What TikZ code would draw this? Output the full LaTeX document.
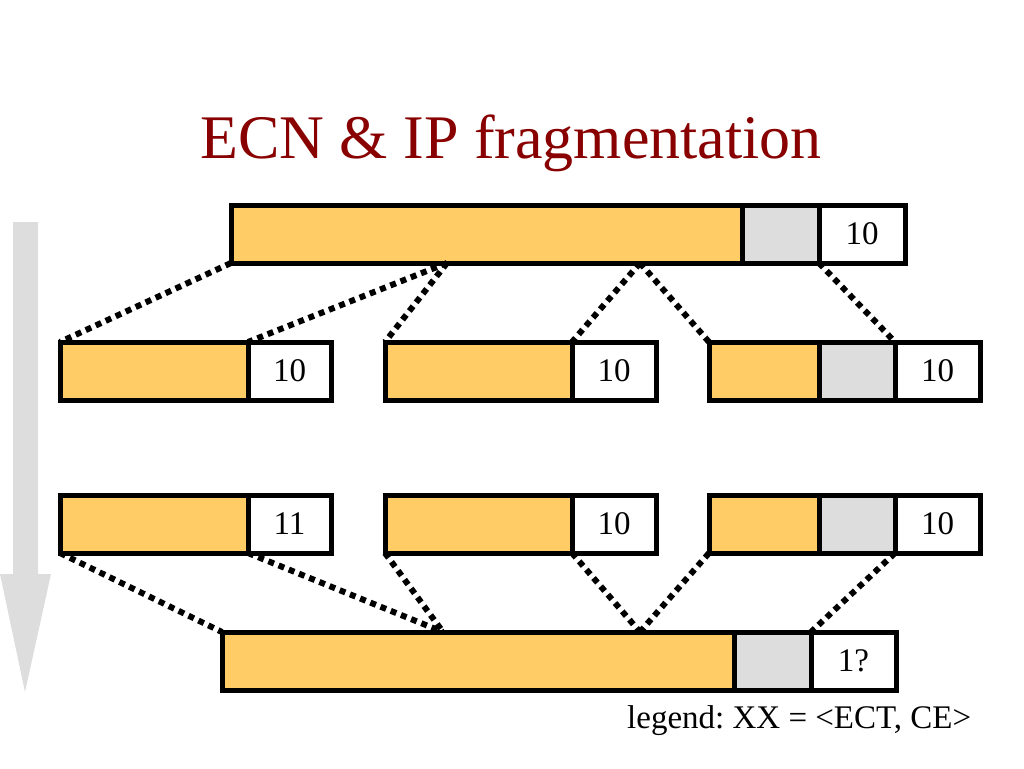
\documentclass[tikz,border=0pt]{standalone}
\usepackage{fontspec}
\setmainfont{Liberation Serif}
\definecolor{payload}{RGB}{255,204,102}
\definecolor{hdr}{RGB}{221,221,221}
\definecolor{titlered}{RGB}{136,0,0}
\tikzset{
  cell/.style={draw=black, line width=5pt, inner sep=0pt, outer sep=0pt, minimum height=58pt, anchor=center, font=\fontsize{33}{36}\selectfont},
  ycell/.style={cell, fill=payload},
  gcell/.style={cell, fill=hdr},
  wcell/.style={cell, fill=white},
  frag/.style={line width=6pt, dash pattern=on 6pt off 5pt}
}
\begin{document}
\frenchspacing
\begin{tikzpicture}[x=1pt,y=-1pt]
\useasboundingbox (0,0) rectangle (1024,768);
% time arrow
\fill[hdr] (13,222) -- (38,222) -- (38,574) -- (51,574) -- (25,692) -- (0,574) -- (13,574) -- cycle;
% title
\node[anchor=base, text=titlered, font=\fontsize{62}{70}\selectfont, inner sep=0pt] (title) at (511,158) {ECN \& IP fragmentation};
% top packet
\node[ycell, minimum width=511pt] (ty) at (486.5,234) {};
\node[gcell, minimum width=77pt] (tg) at (780.5,234) {};
\node[wcell, minimum width=86pt] (tw) at (862,234) {10};
% row 2 fragments
\node[ycell, minimum width=188pt] (ay) at (154,371) {};
\node[wcell, minimum width=83pt] (aw) at (289.5,371) {10};
\node[ycell, minimum width=187pt] (by) at (478.5,371) {};
\node[wcell, minimum width=84pt] (bw) at (614,371) {10};
\node[ycell, minimum width=110pt] (cy) at (764,371) {};
\node[gcell, minimum width=76pt] (cg) at (857,371) {};
\node[wcell, minimum width=85pt] (cw) at (937.5,371) {10};
% row 3 fragments
\node[ycell, minimum width=188pt] (dy) at (154,524) {};
\node[wcell, minimum width=83pt] (dw) at (289.5,524) {11};
\node[ycell, minimum width=187pt] (ey) at (478.5,524) {};
\node[wcell, minimum width=84pt] (ew) at (614,524) {10};
\node[ycell, minimum width=110pt] (fy) at (764,524) {};
\node[gcell, minimum width=76pt] (fg) at (857,524) {};
\node[wcell, minimum width=85pt] (fw) at (937.5,524) {10};
% reassembled packet
\node[ycell, minimum width=512pt] (ry) at (478,661) {};
\node[gcell, minimum width=77pt] (rg) at (772.5,661) {};
\node[wcell, minimum width=85pt] (rw) at (853.5,661) {1?};
% split points
\coordinate (s1) at (447,263);
\coordinate (s2) at (640,263);
\coordinate (m1) at (443,632);
\coordinate (m2) at (640,632);
% fragmentation lines
\draw[frag] (ty.south west) -- (ay.north west);
\draw[frag] (s1) -- (aw.north west);
\draw[frag] (s1) -- (by.north west);
\draw[frag] (s2) -- (bw.north west);
\draw[frag] (s2) -- (cy.north west);
\draw[frag] (tw.south west) -- (cw.north west);
% reassembly lines
\draw[frag] (dy.south west) -- (ry.north west);
\draw[frag] (dw.south west) -- (m1);
\draw[frag] (ey.south west) -- (m1);
\draw[frag] (ew.south west) -- (m2);
\draw[frag] (fy.south west) -- (m2);
\draw[frag] (fw.south west) -- (rw.north west);
% legend
\node[anchor=base west, inner sep=0pt, font=\fontsize{33}{36}\selectfont] (legend) at (627,728) {legend: XX = <ECT, CE>};
\end{tikzpicture}
\end{document}
